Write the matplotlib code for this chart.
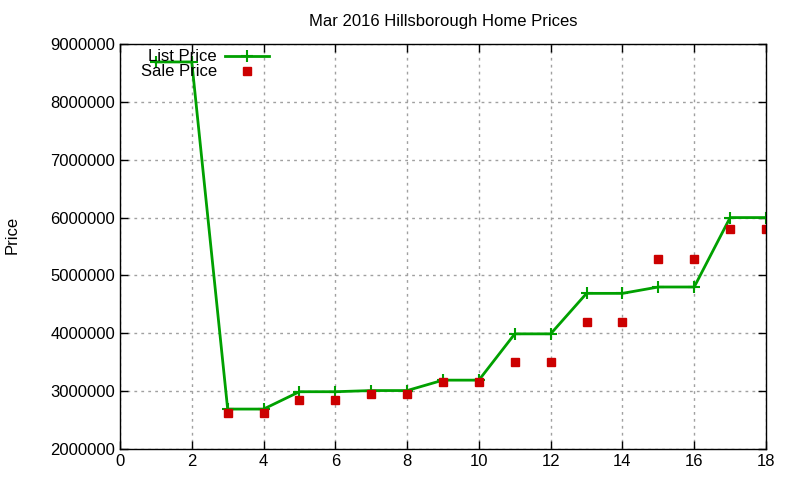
import matplotlib.pyplot as plt
from matplotlib.ticker import MultipleLocator

# Data
x_list = [1, 2, 3, 4, 5, 6, 7, 8, 9, 10, 11, 12, 13, 14, 15, 16, 17, 18]
list_price = [8690000, 8690000, 2690000, 2690000, 2990000, 2990000, 3010000, 3010000,
              3190000, 3190000, 3990000, 3990000, 4690000, 4690000, 4800000, 4800000,
              6000000, 6000000]
x_sale = [3, 4, 5, 6, 7, 8, 9, 10, 11, 12, 13, 14, 15, 16, 17, 18]
sale_price = [2620000, 2620000, 2850000, 2850000, 2950000, 2950000, 3150000, 3150000,
              3500000, 3500000, 4200000, 4200000, 5290000, 5290000, 5800000, 5800000]

plt.rcParams['font.family'] = ['Liberation Sans', 'DejaVu Sans']

fig = plt.figure(figsize=(8, 4.8), dpi=100)
ax = fig.add_axes([0.15, 0.0646, 0.8075, 0.8437])

ax.plot(x_list, list_price, color='#00a000', lw=2, marker='+', markersize=9,
        markeredgewidth=1.5, label='List Price')
ax.plot(x_sale, sale_price, linestyle='none', color='#cc0000', marker='s',
        markersize=6, label='Sale Price')

ax.set_xlim(0, 18)
ax.set_ylim(2000000, 9000000)
ax.xaxis.set_major_locator(MultipleLocator(2))
ax.yaxis.set_major_locator(MultipleLocator(1000000))
ax.ticklabel_format(style='plain', axis='y', useOffset=False)
ax.grid(True, color='#a0a0a0', linestyle=(0, (2, 3)), lw=1)
ax.tick_params(direction='in', top=True, right=True, length=6, labelsize=12, width=1)
for s in ax.spines.values():
    s.set_linewidth(1)

ax.set_title('Mar 2016 Hillsborough Home Prices', fontsize=12, pad=13)
fig.text(0.015, 0.51, 'Price', rotation=90, fontsize=12, va='center', ha='center')

ax.legend(loc='upper left', bbox_to_anchor=(0.022, 1.003), frameon=False, markerfirst=False,
          fontsize=12, handlelength=2.6, handletextpad=0.5, labelspacing=0.0,
          borderaxespad=0.0)

fig.savefig('out.png', dpi=100)
